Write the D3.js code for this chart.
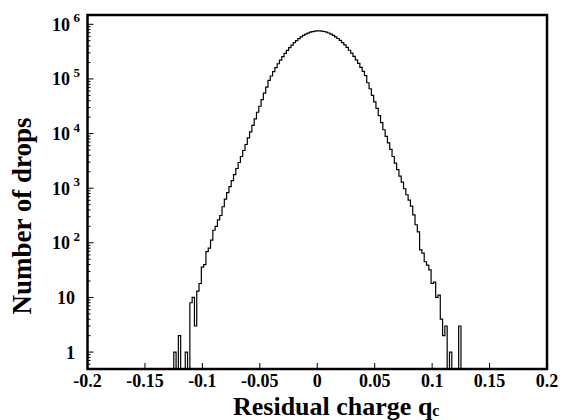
<!DOCTYPE html>
<html>
<head>
<meta charset="utf-8">
<script src="https://cdn.jsdelivr.net/npm/d3@7"></script>
<style>
  body { margin: 0; background: #fff; }
  text { font-family: "Liberation Serif", "Times New Roman", serif; font-weight: bold; fill: #000; }
</style>
</head>
<body>
<script>
const width = 578
const height = 420
const margin = {left: 87.5, right: 31, top: 15, bottom: 51}

// histogram bins, 0.002 wide, first bin starts at binStart
const binStart = -0.1249
const binWidth = 0.002
const counts = [
  1, 0, 2, 0, 0, 1, 0, 8, 10, 3,
  13, 18, 36, 40, 69, 80, 112, 170, 200, 263,
  316, 457, 631, 832, 1072, 1380, 1778, 2291, 2951, 3802,
  4898, 6310, 8318, 10715, 14125, 18621, 24547, 31623, 41687, 54954,
  70795, 93756, 113240, 135831, 161065, 189671, 221309, 255859, 292415, 331894,
  373250, 415911, 460257, 503501, 545758, 587489, 625173, 660693, 691831, 716143,
  736207, 749894, 758578, 757900, 751623, 737904, 719449, 693426, 663743, 628058,
  590201, 549541, 506991, 463447, 419759, 376704, 334965, 295801, 258226, 223872,
  191867, 163305, 137721, 114815, 85114, 66069, 50119, 38019, 28840, 21380,
  15849, 11749, 8913, 6761, 5129, 3802, 2884, 2188, 1660, 1288,
  977, 759, 603, 468, 324, 214, 158, 74, 65, 45,
  39, 32, 18, 19, 10, 11, 4, 2, 3, 0,
  1, 0, 0, 0, 3
]

const xTicks = [-0.2, -0.15, -0.1, -0.05, 0, 0.05, 0.1, 0.15, 0.2]
const xTickLabels = ['-0.2', '-0.15', '-0.1', '-0.05', '0', '0.05', '0.1', '0.15', '0.2']
const yTicks = [1, 10, 1e2, 1e3, 1e4, 1e5, 1e6]
const yExponents = [null, null, 2, 3, 4, 5, 6]

const svg = d3.select('body').append('svg')
    .attr('width', width)
    .attr('height', height)

const xScale = d3.scaleLinear()
    .domain([-0.2, 0.2])
    .range([margin.left, width - margin.right])

const yScale = d3.scaleLog()
    .domain([0.49, 1.48e6])
    .range([height - margin.bottom, margin.top])
    .clamp(true)

const bottom = height - margin.bottom

// step outline of the histogram
const pts = [[xScale(binStart), bottom]]
counts.forEach((c, i) => {
    const lo = binStart + i * binWidth
    const y = c > 0 ? yScale(c) : bottom
    pts.push([xScale(lo), y])
    pts.push([xScale(lo + binWidth), y])
})
pts.push([xScale(binStart + counts.length * binWidth), bottom])

svg.append('path')
    .attr('d', d3.line()(pts))
    .attr('fill', 'none')
    .attr('stroke', '#000')
    .attr('stroke-width', 1.2)

// x ticks, pointing inward
svg.append('g')
    .selectAll('line')
    .data(xTicks)
    .join('line')
    .attr('x1', d => xScale(d))
    .attr('x2', d => xScale(d))
    .attr('y1', bottom)
    .attr('y2', bottom - 6)
    .attr('stroke', '#000')
    .attr('stroke-width', 1)

svg.append('g')
    .selectAll('text')
    .data(xTicks)
    .join('text')
    .attr('x', d => xScale(d))
    .attr('y', 387)
    .attr('text-anchor', 'middle')
    .attr('font-size', 18)
    .text((d, i) => xTickLabels[i])

// y ticks: majors at decades, minors in between
const minor = []
for (let e = 0; e <= 6; e++) {
    for (let m = 2; m <= 9; m++) {
        const v = m * Math.pow(10, e)
        if (v < 1.48e6) minor.push(v)
    }
}
minor.push(0.5, 0.6, 0.7, 0.8, 0.9)

svg.append('g')
    .selectAll('line')
    .data(minor)
    .join('line')
    .attr('x1', margin.left)
    .attr('x2', margin.left + 3)
    .attr('y1', d => yScale(d))
    .attr('y2', d => yScale(d))
    .attr('stroke', '#000')
    .attr('stroke-width', 1)

svg.append('g')
    .selectAll('line')
    .data(yTicks)
    .join('line')
    .attr('x1', margin.left)
    .attr('x2', margin.left + 6)
    .attr('y1', d => yScale(d))
    .attr('y2', d => yScale(d))
    .attr('stroke', '#000')
    .attr('stroke-width', 1)

const yLab = svg.append('g')
    .selectAll('g')
    .data(yTicks)
    .join('g')
    .attr('transform', d => 'translate(0,' + yScale(d) + ')')

yLab.append('text')
    .attr('x', (d, i) => yExponents[i] === null ? 75 : 70)
    .attr('y', 6.5)
    .attr('text-anchor', 'end')
    .attr('font-size', 18)
    .text(d => d >= 10 ? '10' : '1')

yLab.filter((d, i) => yExponents[i] !== null)
    .append('text')
    .attr('x', 73.5)
    .attr('y', -2)
    .attr('font-size', 13)
    .text(d => Math.round(Math.log10(d)))

// frame
svg.append('rect')
    .attr('x', margin.left)
    .attr('y', margin.top)
    .attr('width', width - margin.left - margin.right)
    .attr('height', height - margin.top - margin.bottom)
    .attr('fill', 'none')
    .attr('stroke', '#000')
    .attr('stroke-width', 2.5)

// axis titles
const xt = svg.append('text')
    .attr('x', 233)
    .attr('y', 415)
    .attr('font-size', 26)
xt.append('tspan').text('Residual charge q')
xt.append('tspan').attr('font-size', 16).attr('dy', 1).text('c')

svg.append('text')
    .attr('transform', 'translate(31,216) rotate(-90)')
    .attr('text-anchor', 'middle')
    .attr('font-size', 27)
    .text('Number of drops')
</script>
</body>
</html>
